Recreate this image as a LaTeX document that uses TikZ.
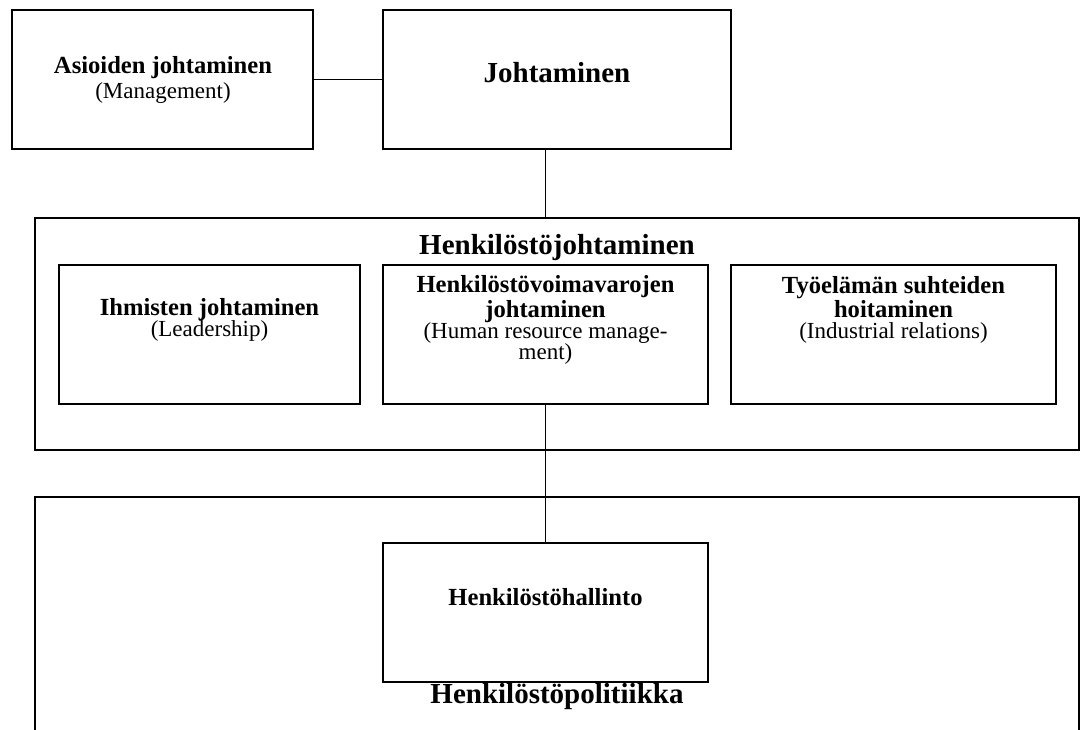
\documentclass[tikz,border=0pt]{standalone}
\usepackage{fontspec}
\setmainfont{Liberation Serif}
\usetikzlibrary{fit}
\newcommand{\myboldtxt}{\fontsize{12.3}{10.6}\selectfont\bfseries}
\newcommand{\myregtxt}{\fontsize{11.5}{10.6}\selectfont}
\begin{document}
\begin{tikzpicture}[x=0.5pt,y=-0.5pt,
  box/.style={draw=black, line width=0.85pt, fill=white, inner sep=0pt},
  bigbox/.style={draw=black, line width=1.1pt, fill=white, inner sep=0pt},
  link/.style={draw=black, line width=0.85pt},
  lbl/.style={align=center, inner sep=0pt, font=\fontsize{12}{10.6}\selectfont},
  big/.style={inner sep=0pt, font=\fontsize{14.5}{17}\selectfont\bfseries}]
\useasboundingbox (0,0) rectangle (1082,729);
\fill[white] (0,0) rectangle (1082,729);
% frames
\node[bigbox, fit={(35,497) (1079,770)}] (politiikka) {};
\node[box, fit={(35,218) (1079,450)}] (hjohto) {};
\node[box, fit={(12,10) (313,149)}] (asioiden) {};
\node[box, fit={(383,10) (731,149)}] (johtaminen) {};
\node[box, fit={(59,265) (360,404)}] (ihmisten) {};
\node[box, fit={(383,265) (708,404)}] (hrm) {};
\node[box, fit={(731,265) (1056,404)}] (tyoelama) {};
% connectors
\draw[link] (asioiden.east) -- (johtaminen.west);
\draw[link] (hrm.north |- johtaminen.south) -- (hrm.north |- hjohto.north);
\node[box, fit={(383,543) (708,682)}] (hallinto) {};
\draw[link] (hrm.south) -- (hallinto.north);
% texts
\node[lbl] (t-asioiden) at (163,80) {{\myboldtxt Asioiden johtaminen}\\[1.6pt]{\myregtxt (Management)}};
\node[big] (t-johtaminen) at (557,73) {Johtaminen};
\node[big] (t-hjohto) at (557,248) {Henkilöstöjohtaminen};
\node[lbl] (t-ihmisten) at (209.5,320) {{\myboldtxt Ihmisten johtaminen}\\{\myregtxt (Leadership)}};
\node[lbl] (t-hrm) at (545.5,320) {{\myboldtxt Henkilöstövoimavarojen}\\{\myboldtxt johtaminen}\\{\myregtxt (Human resource manage-}\\{\myregtxt ment)}};
\node[lbl] (t-tyoelama) at (893.5,310) {{\myboldtxt Työelämän suhteiden}\\{\myboldtxt hoitaminen}\\{\myregtxt (Industrial relations)}};
\node[lbl] (t-hallinto) at (545.5,597) {\myboldtxt Henkilöstöhallinto};
\node[big] (t-politiikka) at (557,697) {Henkilöstöpolitiikka};
\end{tikzpicture}
\end{document}
